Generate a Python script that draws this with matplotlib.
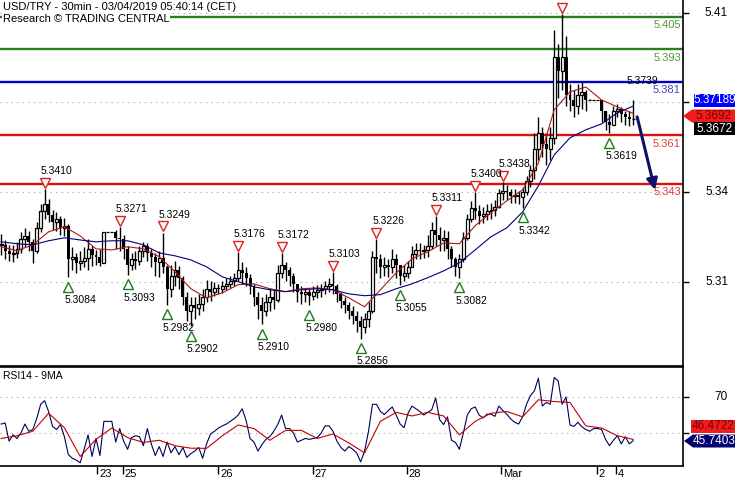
import numpy as np
import matplotlib.pyplot as plt
from matplotlib import transforms
from matplotlib.patches import Polygon

plt.rcParams['font.family'] = ['Liberation Sans', 'DejaVu Sans']

# ---------- data (hourly candles) ----------
close = [
    5.3205, 5.3180, 5.3170, 5.3175, 5.3190, 5.3225, 5.3235, 5.3215, 5.3180, 5.3265,
    5.3330, 5.3355, 5.3315, 5.3290, 5.3300, 5.3265, 5.3275, 5.3150, 5.3160, 5.3135,
    5.3145, 5.3155, 5.3190, 5.3165, 5.3160, 5.3135, 5.3250, 5.3250, 5.3250, 5.3230,
    5.3225, 5.3190, 5.3130, 5.3150, 5.3145, 5.3180, 5.3200, 5.3175, 5.3160, 5.3140,
    5.3155, 5.3120, 5.3040, 5.3090, 5.3110, 5.3080, 5.3010, 5.2960, 5.2980, 5.2970,
    5.2985, 5.3010, 5.3040, 5.3030, 5.3045, 5.3040, 5.3050, 5.3060, 5.3070, 5.3080,
    5.3110, 5.3100, 5.3080, 5.3050, 5.3010, 5.2980, 5.2960, 5.2990, 5.3010, 5.3000,
    5.3100, 5.3130, 5.3110, 5.3090, 5.3060, 5.3030, 5.3020, 5.3030, 5.3015, 5.3030,
    5.3035, 5.3040, 5.3050, 5.3060, 5.3050, 5.3020, 5.2995, 5.2980, 5.2960, 5.2940,
    5.2920, 5.2900, 5.2930, 5.2960, 5.3160, 5.3150, 5.3120, 5.3130, 5.3120, 5.3150,
    5.3130, 5.3090, 5.3100, 5.3120, 5.3170, 5.3185, 5.3180, 5.3185, 5.3200, 5.3260,
    5.3240, 5.3220, 5.3230, 5.3190, 5.3150, 5.3120, 5.3150, 5.3230, 5.3300, 5.3340,
    5.3330, 5.3310, 5.3320, 5.3330, 5.3335, 5.3345, 5.3395, 5.3405, 5.3400, 5.3385,
    5.3390, 5.3380, 5.3400, 5.3440, 5.3480, 5.3560, 5.3620, 5.3580, 5.3560, 5.3600,
    5.3900, 5.3850, 5.3900, 5.3760, 5.3740, 5.3720, 5.3760, 5.3770, 5.3740, 5.3740,
    5.3740, 5.3740, 5.3700, 5.3660, 5.3650, 5.3700, 5.3710, 5.3690, 5.3680, 5.3670,
    5.3672]
high = [
    5.3245, 5.3220, 5.3205, 5.3205, 5.3215, 5.3250, 5.3265, 5.3255, 5.3225, 5.3290,
    5.3355, 5.3410, 5.3375, 5.3335, 5.3325, 5.3310, 5.3305, 5.3280, 5.3195, 5.3175,
    5.3180, 5.3195, 5.3225, 5.3200, 5.3185, 5.3190, 5.3250, 5.3250, 5.3250, 5.3260,
    5.3271, 5.3240, 5.3200, 5.3175, 5.3180, 5.3200, 5.3215, 5.3210, 5.3190, 5.3175,
    5.3180, 5.3249, 5.3130, 5.3130, 5.3145, 5.3125, 5.3090, 5.3030, 5.3010, 5.3010,
    5.3020, 5.3040, 5.3075, 5.3070, 5.3065, 5.3060, 5.3070, 5.3080, 5.3090, 5.3100,
    5.3176, 5.3140, 5.3120, 5.3095, 5.3060, 5.3030, 5.3010, 5.3020, 5.3045, 5.3040,
    5.3130, 5.3172, 5.3140, 5.3120, 5.3100, 5.3060, 5.3050, 5.3045, 5.3040, 5.3050,
    5.3055, 5.3060, 5.3070, 5.3080, 5.3103, 5.3060, 5.3030, 5.3010, 5.2990, 5.2975,
    5.2960, 5.2940, 5.2950, 5.2990, 5.3180, 5.3226, 5.3170, 5.3160, 5.3150, 5.3190,
    5.3170, 5.3130, 5.3130, 5.3145, 5.3200, 5.3210, 5.3210, 5.3205, 5.3240, 5.3290,
    5.3311, 5.3270, 5.3260, 5.3255, 5.3200, 5.3160, 5.3170, 5.3250, 5.3320, 5.3365,
    5.3400, 5.3350, 5.3345, 5.3355, 5.3360, 5.3370, 5.3410, 5.3438, 5.3425, 5.3410,
    5.3410, 5.3405, 5.3420, 5.3460, 5.3500, 5.3620, 5.3680, 5.3640, 5.3620, 5.3640,
    5.4000, 5.3950, 5.4060, 5.3980, 5.3800, 5.3780, 5.3800, 5.3810, 5.3780, 5.3745,
    5.3740, 5.3740, 5.3740, 5.3700, 5.3690, 5.3720, 5.3725, 5.3715, 5.3700, 5.3700,
    5.3740]
low = [
    5.3165, 5.3150, 5.3145, 5.3140, 5.3155, 5.3175, 5.3195, 5.3180, 5.3137, 5.3175,
    5.3250, 5.3300, 5.3290, 5.3260, 5.3255, 5.3240, 5.3235, 5.3084, 5.3110, 5.3100,
    5.3110, 5.3120, 5.3110, 5.3125, 5.3130, 5.3125, 5.3135, 5.3250, 5.3250, 5.3190,
    5.3180, 5.3150, 5.3093, 5.3110, 5.3115, 5.3130, 5.3160, 5.3145, 5.3120, 5.3090,
    5.3085, 5.3100, 5.2982, 5.3010, 5.3050, 5.3040, 5.2980, 5.2920, 5.2902, 5.2930,
    5.2945, 5.2960, 5.2990, 5.2995, 5.3015, 5.3020, 5.3025, 5.3035, 5.3045, 5.3050,
    5.3070, 5.3060, 5.3050, 5.3020, 5.2975, 5.2930, 5.2910, 5.2940, 5.2960, 5.2965,
    5.2990, 5.3080, 5.3070, 5.3050, 5.3030, 5.2990, 5.2985, 5.2990, 5.2980, 5.3000,
    5.3005, 5.3010, 5.3020, 5.3030, 5.3020, 5.2990, 5.2970, 5.2950, 5.2930, 5.2910,
    5.2880, 5.2856, 5.2875, 5.2900, 5.2950, 5.3100, 5.3080, 5.3090, 5.3085, 5.3100,
    5.3080, 5.3055, 5.3070, 5.3080, 5.3120, 5.3150, 5.3150, 5.3155, 5.3160, 5.3190,
    5.3200, 5.3180, 5.3180, 5.3150, 5.3120, 5.3090, 5.3082, 5.3140, 5.3220, 5.3290,
    5.3300, 5.3280, 5.3285, 5.3295, 5.3300, 5.3310, 5.3340, 5.3370, 5.3370, 5.3360,
    5.3360, 5.3355, 5.3342, 5.3390, 5.3420, 5.3450, 5.3520, 5.3530, 5.3500, 5.3520,
    5.3580, 5.3750, 5.3780, 5.3720, 5.3700, 5.3680, 5.3690, 5.3710, 5.3700, 5.3740,
    5.3740, 5.3740, 5.3660, 5.3630, 5.3619, 5.3650, 5.3680, 5.3660, 5.3650, 5.3645,
    5.3650]

# moving averages, one reading every 4 candles
ma_step = 4
red_ma = [5.3197, 5.3182, 5.3204, 5.3252, 5.3271, 5.3237, 5.3189, 5.3185, 5.3197, 5.3189,
          5.3160, 5.3104, 5.3041, 5.3007, 5.3026, 5.3056, 5.3059, 5.3041, 5.3030, 5.3041,
          5.3044, 5.3037, 5.3007, 5.2974, 5.3037, 5.3100, 5.3152, 5.3178, 5.3211, 5.3208,
          5.3275, 5.3323, 5.3367, 5.3408, 5.3508, 5.3705, 5.3772, 5.3790, 5.3742, 5.3716,
          5.3692]
blue_ma = [5.3215, 5.3208, 5.3204, 5.3219, 5.3230, 5.3222, 5.3215, 5.3219, 5.3219, 5.3204,
           5.3174, 5.3163, 5.3148, 5.3122, 5.3085, 5.3067, 5.3048, 5.3037, 5.3030, 5.3037,
           5.3041, 5.3037, 5.3022, 5.3015, 5.3019, 5.3041, 5.3059, 5.3082, 5.3107, 5.3137,
           5.3185, 5.3234, 5.3267, 5.3326, 5.3423, 5.3538, 5.3601, 5.3631, 5.3653, 5.3694,
           5.3719]

rsi = [55, 55.6, 45.5, 49, 47, 50, 55, 51, 52, 58,
       66, 68, 62, 53.7, 52, 54.7, 48, 38, 36, 35,
       33.5, 41, 49, 37, 47, 37.5, 56.5, 56.5, 56.5, 45,
       52.5, 45.5, 41, 47.5, 48.5, 48, 43, 52.5, 44, 37.5,
       42.5, 37, 45, 39, 42.5, 38, 42, 36.5, 38.5, 40,
       42, 36, 44, 49.5, 51, 52.8, 54, 55, 56.5, 58,
       60, 63.5, 57, 47, 45, 40, 43.5, 46.5, 48, 51,
       54.7, 60, 52.5, 52.5, 50, 45, 46, 47, 46.5, 47,
       47.5, 50, 54, 54, 51, 45.5, 42, 40, 42.5, 41,
       39, 34, 40, 51, 66, 66, 62, 60.3, 62.5, 64.5,
       60, 55, 53, 61, 65, 63.5, 62, 60, 61.5, 63,
       69.5, 57.5, 54.7, 59, 46, 44.8, 41, 50, 60, 63.5,
       64.5, 60, 58.4, 60.5, 60.5, 59.3, 65, 62.5, 60.5, 57.8,
       56, 55, 59, 66, 70.8, 73.5, 80.5, 65, 67, 66,
       80.9, 79, 66, 70, 54.5, 53.7, 56, 53.5, 52, 51,
       52.5, 52.5, 52, 46.5, 43, 46, 48.5, 44, 48, 44,
       45.74]
rsi_ma = [47, 48.5, 51, 61, 53, 37, 46.5, 52.8, 47.5, 44.8,
          46, 43, 41.6, 41.5, 48.5, 54.5, 52.5, 46, 51.5, 51.5,
          47, 49.5, 44.5, 39, 56.5, 61.5, 59.5, 61.5, 59.5, 49,
          56.5, 61, 62, 59, 68.5, 67.5, 67, 54, 52.8, 48.5,
          46.47]

# swing highs / lows (candle index, price, label)
peak_idx = [11, 30, 41, 60, 71, 84, 95, 110, 120, 127, 142]
peak_val = [5.3410, 5.3271, 5.3249, 5.3176, 5.3172, 5.3103, 5.3226, 5.3311, 5.3400, 5.3438, 5.4060]
peak_txt = ['5.3410', '5.3271', '5.3249', '5.3176', '5.3172', '5.3103', '5.3226', '5.3311',
            '5.3400', '5.3438', '']
trough_idx = [17, 32, 42, 48, 66, 78, 91, 101, 116, 132, 154]
trough_val = [5.3084, 5.3093, 5.2982, 5.2902, 5.2910, 5.2980, 5.2856, 5.3055, 5.3082, 5.3342, 5.3619]
trough_txt = ['5.3084', '5.3093', '5.2982', '5.2902', '5.2910', '5.2980', '5.2856', '5.3055',
              '5.3082', '5.3342', '5.3619']

# support / resistance levels
levels = [5.405, 5.393, 5.381, 5.361, 5.343]
level_txt = ['5.405', '5.393', '5.381', '5.361', '5.343']
level_col = ['#2a7f1e', '#2a7f1e', '#0000c8', '#dd1010', '#dd1010']
level_txtcol = ['#4f9a3a', '#4f9a3a', '#4444c0', '#e03a3a', '#e03a3a']

grid_vals = [5.3067, 5.3400, 5.3733, 5.4066]
grid_lbls = {5.3067: '5.31', 5.3400: '5.34', 5.4066: '5.41'}

day_pos = [24.3, 30.8, 54.9, 78.9, 102.7, 126.5, 150.8, 155.6]
day_lbl = ['23', '25', '26', '27', '28', 'Mar', '2', '4']

# ---------- figure ----------
W, H = 735, 480
fig = plt.figure(figsize=(W / 100, H / 100), dpi=100)
ax = fig.add_axes([0, 1 - 366 / H, 683 / W, 366 / H])
ax2 = fig.add_axes([0, 1 - 466 / H, 683 / W, 99 / H])

xmin, xmax = -0.3, 683 / 3.95 - 0.3
ax.set_xlim(xmin, xmax)
ax.set_ylim(5.2754, 5.4113)
ax2.set_xlim(xmin, xmax)
ax2.set_ylim(31.7, 86.7)

for a in (ax, ax2):
    a.spines['left'].set_visible(False)
    for s in ('right', 'bottom', 'top'):
        a.spines[s].set_color('black')
        a.spines[s].set_linewidth(1.2)
ax.spines['top'].set_visible(False)

# gridlines
dots = (0, (1, 4))
ax.hlines(grid_vals, xmin, xmax, colors='#a0a0a0', linestyles=dots, lw=0.8, zorder=0)
ax2.hlines([50, 70], xmin, xmax, colors='#a0a0a0', linestyles=dots, lw=0.8, zorder=0)

# levels
for v, t, c, tc in zip(levels, level_txt, level_col, level_txtcol):
    ax.axhline(v, color=c, lw=1.7, zorder=1)
    tr = transforms.offset_copy(transforms.blended_transform_factory(ax.transAxes, ax.transData),
                                fig=fig, x=0, y=-2.5, units='points')
    ax.text(0.997, v, t, transform=tr, ha='right', va='top', fontsize=8, color=tc, zorder=6)

# candles
x = np.arange(len(close))
c = np.array(close)
o = np.array([close[0]] + close[:-1])
ax.vlines(x, low, high, color='black', lw=1.0, zorder=3)
up = c >= o
ax.bar(x[~up], (o - c)[~up], bottom=c[~up], width=0.75, color='black', lw=0, zorder=4)
ax.bar(x[up], np.maximum((c - o)[up], 0.0002), bottom=o[up], width=0.75,
       facecolor='white', edgecolor='black', lw=0.9, zorder=4)

# moving averages
ax.plot(np.arange(len(red_ma)) * ma_step, red_ma, color='#b01818', lw=0.8, zorder=5)
ax.plot(np.arange(len(blue_ma)) * ma_step, blue_ma, color='#00007a', lw=0.8, zorder=5)

# swing markers
up_tri = transforms.offset_copy(ax.transData, fig=fig, x=0, y=4.5, units='points')
up_txt = transforms.offset_copy(ax.transData, fig=fig, x=-3, y=13, units='points')
dn_tri = transforms.offset_copy(ax.transData, fig=fig, x=0, y=-7, units='points')
dn_txt = transforms.offset_copy(ax.transData, fig=fig, x=-3, y=-16.5, units='points')
ax.plot(peak_idx, peak_val, ls='none', marker='v', ms=7, mfc='white', mec='#dd2020',
        mew=1.0, transform=up_tri, zorder=6, clip_on=False)
ax.plot(trough_idx, trough_val, ls='none', marker='^', ms=7, mfc='white', mec='#1e7a1e',
        mew=1.0, transform=dn_tri, zorder=6)
for i, v, t in zip(peak_idx, peak_val, peak_txt):
    ax.text(i, v, t, transform=up_txt, ha='left', va='center', fontsize=7.5, zorder=6)
for i, v, t in zip(trough_idx, trough_val, trough_txt):
    ax.text(i, v, t, transform=dn_txt, ha='left', va='center', fontsize=7.5, zorder=6)

ax.text(162.3, 5.3813, '5.3739', ha='center', va='center', fontsize=7.5, zorder=6)

# projection arrow
ax.annotate('', xy=(165.5, 5.3408), xytext=(161.0, 5.3679),
            arrowprops=dict(arrowstyle='-|>', color='#10106a', lw=2.2, mutation_scale=16,
                            shrinkA=0, shrinkB=0), zorder=7)

# right axis ticks and labels
ax.set_xticks([])
ax.set_yticks(grid_vals)
ax.set_yticklabels([])
ax.tick_params(axis='y', left=False, right=True, direction='out', length=4, width=1)
lab_tr = transforms.blended_transform_factory(ax.transAxes, ax.transData)
for v, t in grid_lbls.items():
    ax.text(728 / 683, v, t, transform=lab_tr, ha='right', va='center', fontsize=8.5, clip_on=False)

# RSI panel
ax2.plot(np.arange(len(rsi)), rsi, color='#00005e', lw=0.8, zorder=3)
ax2.plot(np.arange(len(rsi_ma)) * ma_step, rsi_ma, color='#c00000', lw=0.8, zorder=4)
ax2.set_yticks([50, 70])
ax2.set_yticklabels([])
ax2.tick_params(axis='y', left=False, right=True, direction='out', length=4, width=1)
ax2.text(728 / 683, 70, '70', transform=transforms.blended_transform_factory(ax2.transAxes, ax2.transData),
         ha='right', va='center', fontsize=8.5, clip_on=False)
ax2.text(0.004, 0.96, 'RSI14 - 9MA', transform=ax2.transAxes, ha='left', va='top', fontsize=7.5)
ax2.set_xticks(day_pos)
ax2.set_xticklabels([])
ax2.tick_params(axis='x', direction='out', length=6, width=1)
for p, t in zip(day_pos, day_lbl):
    ax2.text(p + 0.5, -0.035, t, transform=ax2.get_xaxis_transform(), ha='left', va='top',
             fontsize=8, clip_on=False)

# header
fig.text(3 / W, 1 - 2 / H, 'USD/TRY - 30min - 03/04/2019 05:40:14 (CET)', ha='left', va='top',
         fontsize=8, bbox=dict(facecolor='white', edgecolor='none', pad=0.6), zorder=10)
fig.text(3 / W, 1 - 14 / H, 'Research \u00a9 TRADING CENTRAL', ha='left', va='top',
         fontsize=8, bbox=dict(facecolor='white', edgecolor='none', pad=0.6), zorder=10)


# value tags on the right axis (pixel coordinates)
def tag(yc, x0, text, fc, tc, arrow=False):
    h = 6.5
    pts = [(x0, yc - h), (735, yc - h), (735, yc + h), (x0, yc + h)]
    if arrow:
        pts = [(x0 - 9, yc)] + pts
    poly = Polygon([(px / W, 1 - py / H) for px, py in pts], closed=True, transform=fig.transFigure,
                   facecolor=fc, edgecolor='none', zorder=11)
    fig.add_artist(poly)
    fig.text((x0 + 735) / 2 / W, 1 - yc / H, text, ha='center', va='center', fontsize=8.5,
             color=tc, zorder=12)


tag(100, 694, '5.37189', '#0000ff', 'white')
tag(116, 692, '5.3692', '#ee1c1c', '#7a0000', arrow=True)
tag(128.5, 694, '5.3672', 'black', 'white')
tag(426, 691, '46.4722', '#ee1c1c', '#7a0000')
tag(441, 693, '45.7403', '#00006e', 'white', arrow=True)

fig.savefig('out.png', dpi=100)
